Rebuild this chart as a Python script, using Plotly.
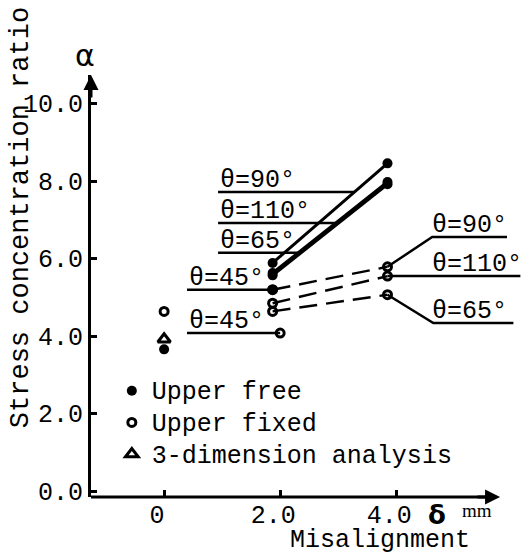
import plotly.graph_objects as go

# ---------------- data ----------------
x_zero = [0]
free_zero = [3.66]
fixed_zero = [4.64]
fem_zero = [3.92]

x_pair = [1.87, 3.85]
free_90 = [5.89, 8.46]
free_110 = [5.63, 7.98]
free_65 = [5.57, 7.92]
x_free45 = [1.87]
free_45 = [5.20]

fixed_90 = [5.20, 5.79]
fixed_110 = [4.85, 5.55]
fixed_65 = [4.64, 5.07]
x_fixed45 = [2.0]
fixed_45 = [4.08]

y_ticks = [0, 2, 4, 6, 8, 10]
y_ticktext = ["0.0", "2.0", "4.0", "6.0", "8.0", "10.0"]
x_ticks = [0, 2, 4]
x_ticktext = ["0", "2.0", "4.0"]
legend_names = ["Upper free", "Upper fixed", "3-dimension analysis"]

# ---------------- styling ----------------
MONO = "Liberation Mono"
BLACK = "black"
X_RANGE = [-1.26, 6.22]
Y_RANGE = [-0.15, 10.74]
X_ARROW_TIP = 5.79

FILLED = dict(symbol="circle", size=10, color=BLACK)
OPEN = dict(symbol="circle-open", size=8, color=BLACK, line=dict(width=3))
TRI = dict(symbol="triangle-up-open", size=11, color=BLACK, line=dict(width=3))

fig = go.Figure()

# Upper fixed (dashed)
for ys in (fixed_90, fixed_110, fixed_65):
    fig.add_trace(go.Scatter(x=x_pair, y=ys, mode="lines+markers",
                             line=dict(color=BLACK, width=2.5, dash="18px,9px"),
                             marker=OPEN, showlegend=False, hoverinfo="skip"))
fig.add_trace(go.Scatter(x=x_fixed45, y=fixed_45, mode="markers", marker=OPEN,
                         showlegend=False))
fig.add_trace(go.Scatter(x=x_zero, y=fixed_zero, mode="markers", marker=OPEN,
                         showlegend=False))

# Upper free (solid)
for ys in (free_90, free_110, free_65):
    fig.add_trace(go.Scatter(x=x_pair, y=ys, mode="lines+markers",
                             line=dict(color=BLACK, width=3),
                             marker=FILLED, showlegend=False))
fig.add_trace(go.Scatter(x=x_free45, y=free_45, mode="markers", marker=FILLED,
                         showlegend=False))
fig.add_trace(go.Scatter(x=x_zero, y=free_zero, mode="markers", marker=FILLED,
                         showlegend=False))

# 3-dimension analysis
fig.add_trace(go.Scatter(x=x_zero, y=fem_zero, mode="markers", marker=TRI,
                         showlegend=False))

# legend entries
for name, mk in zip(legend_names, (FILLED, OPEN, TRI)):
    fig.add_trace(go.Scatter(x=[None], y=[None], mode="markers", marker=mk,
                             name=f'<span style="font-size:25px">{name}</span>',
                             showlegend=True))


def x_on(xs, ys, y):
    """x position on segment (xs, ys) at height y."""
    return xs[0] + (y - ys[0]) / (ys[1] - ys[0]) * (xs[1] - xs[0])


shapes = []
annotations = []
LBL_FONT = dict(family=MONO, size=25, color=BLACK)
LBL_SHIFT = -5

# left labels (upper free)
left_start = 0.93
for txt, yl, ys in (("θ=90°", 7.72, free_90), ("θ=110°", 6.92, free_110),
                    ("θ=65°", 6.15, free_65)):
    shapes.append(dict(type="line", xref="x", yref="y", x0=left_start, y0=yl,
                       x1=x_on(x_pair, ys, yl), y1=yl, layer="below",
                       line=dict(color=BLACK, width=2.5)))
    annotations.append(dict(x=left_start, y=yl, xref="x", yref="y", text=txt,
                            xanchor="left", yanchor="bottom", showarrow=False,
                            yshift=LBL_SHIFT, font=LBL_FONT))

left_start45 = 0.395
for txt, xs, ys in (("θ=45°", x_free45, free_45), ("θ=45°", x_fixed45, fixed_45)):
    shapes.append(dict(type="line", xref="x", yref="y", x0=left_start45, y0=ys[0],
                       x1=xs[0], y1=ys[0], layer="below",
                       line=dict(color=BLACK, width=2.5)))
    annotations.append(dict(x=left_start45, y=ys[0], xref="x", yref="y", text=txt,
                            xanchor="left", yanchor="bottom", showarrow=False,
                            yshift=LBL_SHIFT, font=LBL_FONT))

# right labels (upper fixed)
right_text_x = 4.59
for txt, ys, elbow, xend in (("θ=90°", fixed_90, (4.62, 6.56), 5.91),
                             ("θ=110°", fixed_110, None, 6.14),
                             ("θ=65°", fixed_65, (4.64, 4.34), 6.02)):
    x0, y0 = x_pair[1], ys[1]
    if elbow:
        path = f"M {x0},{y0} L {elbow[0]},{elbow[1]} L {xend},{elbow[1]}"
        yl = elbow[1]
    else:
        path = f"M {x0},{y0} L {xend},{y0}"
        yl = y0
    shapes.append(dict(type="path", xref="x", yref="y", path=path, layer="below",
                       line=dict(color=BLACK, width=2.5)))
    annotations.append(dict(x=right_text_x, y=yl, xref="x", yref="y", text=txt,
                            xanchor="left", yanchor="bottom", showarrow=False,
                            yshift=LBL_SHIFT, font=LBL_FONT))

# x axis line and arrows
shapes.append(dict(type="line", xref="x", yref="paper", x0=X_RANGE[0], y0=0,
                   x1=X_ARROW_TIP - 0.2, y1=0, line=dict(color=BLACK, width=3)))
annotations.append(dict(x=X_ARROW_TIP, y=0, xref="x", yref="paper", ax=-24, ay=0,
                        text="", showarrow=True, arrowhead=2, arrowsize=1,
                        arrowwidth=3, arrowcolor=BLACK))
annotations.append(dict(x=0, y=1, xref="paper", yref="paper", ax=0, ay=24,
                        text="", showarrow=True, arrowhead=2, arrowsize=1,
                        arrowwidth=3, arrowcolor=BLACK))

# axis symbols and titles
C = dict(xanchor="center", yanchor="middle", showarrow=False,
         xref="paper", yref="paper")
annotations += [
    dict(x=-0.0138, y=1.047, text="α",
         font=dict(family="DejaVu Sans", size=30, color=BLACK), **C),
    dict(x=0.797, y=-0.0427, text="<b>δ</b>",
         font=dict(family="DejaVu Sans", size=26, color=BLACK), **C),
    dict(x=0.889, y=-0.033, text="mm",
         font=dict(family="Liberation Serif", size=19, color=BLACK), **C),
    dict(x=0.666, y=-0.104, text="Misalignment",
         font=dict(family=MONO, size=25, color=BLACK), **C),
    dict(x=-0.161, y=0.661, text="Stress concentration ratio", textangle=-90,
         font=dict(family=MONO, size=27, color=BLACK), **C),
]

fig.update_layout(
    width=525, height=557,
    margin=dict(l=91, r=0, t=75, b=60),
    paper_bgcolor="white", plot_bgcolor="white",
    font=dict(family=MONO, size=25, color=BLACK),
    shapes=shapes, annotations=annotations,
    legend=dict(x=0.048, y=0.301, xanchor="left", yanchor="top",
                bgcolor="rgba(0,0,0,0)", font=dict(family=MONO, size=22),
                tracegroupgap=0),
    xaxis=dict(range=X_RANGE, showgrid=False, zeroline=False, showline=False,
               tickmode="array", tickvals=x_ticks, ticktext=x_ticktext,
               ticks="inside", ticklen=7, tickwidth=3, tickcolor=BLACK,
               ticklabelshift=-7, tickfont=dict(family=MONO, size=25)),
    yaxis=dict(range=Y_RANGE, showgrid=False, zeroline=False, showline=True,
               linewidth=3, linecolor=BLACK,
               tickmode="array", tickvals=y_ticks, ticktext=y_ticktext,
               ticks="inside", ticklen=6, tickwidth=3, tickcolor=BLACK,
               tickfont=dict(family=MONO, size=25)),
)

fig.write_html("out.html")
